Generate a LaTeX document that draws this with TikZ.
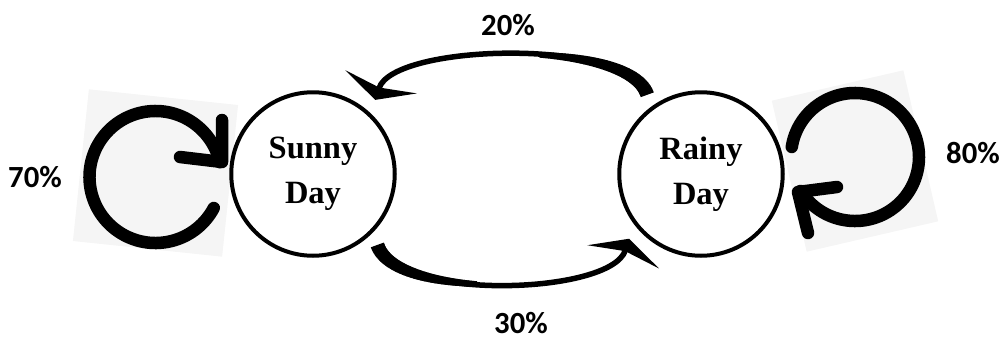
\documentclass[tikz,border=0pt]{standalone}
\usepackage{fontspec}
\setmainfont{Liberation Serif}
\newfontfamily\pctfont{Carlito}
\usetikzlibrary{arrows.meta,decorations.markings}

\begin{document}
\begin{tikzpicture}[
    state/.style={
        circle,
        draw,
        line width=0.08cm,
        fill=white,
        minimum size=3.27cm,
        inner sep=0pt,
        outer sep=0.3cm,
        align=center,
        font=\bfseries\fontsize{18.5}{25.6}\selectfont
    },
    pct/.style={inner sep=1pt, font=\pctfont\bfseries\fontsize{17.5}{20}\selectfont},
    flow/.style={line width=0.11cm, -{Stealth[length=0.38cm,width=1.5cm,inset=0.12cm]}},
    taper/.style={postaction={decorate}, decoration={markings,
        mark=between positions 0 and 0.4 step 0.005 with {
            \pgfmathsetmacro\hw{1.56+2.4*(1-0.0125*\pgfkeysvalueof{/pgf/decoration/mark info/sequence number})}
            \fill (-0.6pt,-\hw pt) rectangle (0.6pt,\hw pt);}}},
    loopline/.style={line width=0.25cm, line cap=round, line join=round},
    backdrop/.style={fill=black!4, inner sep=0pt}
]
\useasboundingbox (0,0) rectangle (20.02,6.8);

% centres of the two self-loops
\coordinate (sunloop) at (3.11,3.26);
\coordinate (rainloop) at (17.10,3.66);

\node[backdrop, rotate=-6, minimum width=3cm, minimum height=3.05cm] (sunbg) at ([yshift=0.08cm]sunloop) {};
\node[backdrop, rotate=13, minimum width=2.7cm, minimum height=3.1cm] (rainbg) at ([yshift=-0.08cm]rainloop) {};

\node[state] (sunny) at (6.26,3.32) {Sunny\\Day};
\node[state] (rainy) at (14.02,3.32) {Rainy\\Day};

\draw[flow, taper] (rainy.124) to[out=110, in=72, looseness=0.56] (sunny.50);
\draw[flow, taper] (sunny.-48) to[out=-70, in=-108, looseness=0.6] (rainy.-138);

\draw[loopline] (sunloop) ++(-28:1.32) arc[start angle=-28, end angle=-347, radius=1.32];
\draw[loopline] (sunloop) ++(0.49,0.40) -- ++(0.84,-0.10) -- ++(0,0.84);
\draw[loopline] (rainloop) ++(171:1.28) arc[start angle=171, end angle=-148, radius=1.28];
\draw[loopline] (rainloop) ++(-0.36,-0.60) -- ++(-0.78,-0.10) -- ++(0.20,-0.82);

\node[pct] (p20) at (10.16,6.30) {20\%};
\node[pct] (p30) at (10.42,0.33) {30\%};
\node[pct] (p70) at (0.70,3.26) {70\%};
\node[pct] (p80) at (19.46,3.74) {80\%};

\end{tikzpicture}
\end{document}
